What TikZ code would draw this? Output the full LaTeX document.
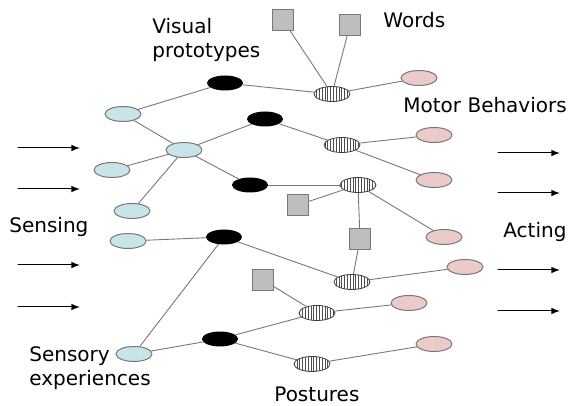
\documentclass[tikz,border=0pt]{standalone}
\usepackage{fontspec}
\setmainfont{DejaVu Sans}
\usetikzlibrary{patterns.meta,shapes.geometric}

\definecolor{sensblue}{RGB}{200,228,232}
\definecolor{motorpink}{RGB}{235,202,202}
\definecolor{wordgray}{RGB}{190,190,190}
\definecolor{edgegray}{RGB}{120,120,120}

\begin{document}
\begin{tikzpicture}[x=0.5pt,y=-0.5pt,line cap=round,line join=round,
    font=\fontsize{10}{12}\selectfont,
    blob/.style={ellipse,minimum width=18pt,minimum height=7.5pt,inner sep=0pt},
    sense/.style={blob,draw=edgegray,line width=0.5pt,fill=sensblue},
    proto/.style={blob,fill=black},
    motor/.style={blob,draw=edgegray,line width=0.5pt,fill=motorpink},
    posture/.style={blob,draw=black!75,line width=0.4pt,
        pattern={Lines[angle=90,distance=1.4pt,line width=0.22pt]},
        pattern color=black!70},
    word/.style={rectangle,draw=edgegray,line width=0.5pt,fill=wordgray,
        minimum size=10.5pt,inner sep=0pt},
    link/.style={draw=edgegray,line width=0.45pt},
    flow/.style={-latex,line width=0.5pt},
    label/.style={inner sep=0pt,align=left}]
        \useasboundingbox (0,0) rectangle (570,406);

        % sensory experiences
        \node[sense] (b1) at (123,114) {};
        \node[sense] (b2) at (184,150) {};
        \node[sense] (b3) at (112,170) {};
        \node[sense] (b4) at (132,211) {};
        \node[sense] (b5) at (128,241) {};
        \node[sense] (b6) at (134,354) {};

        % visual prototypes
        \node[proto] (k1) at (225,83) {};
        \node[proto] (k2) at (265,119) {};
        \node[proto] (k3) at (250,185) {};
        \node[proto] (k4) at (224,237) {};
        \node[proto] (k5) at (220,339) {};

        % postures
        \node[posture] (s1) at (332,94) {};
        \node[posture] (s2) at (342,145) {};
        \node[posture] (s3) at (358,185) {};
        \node[posture] (s4) at (352,282) {};
        \node[posture] (s5) at (317,313) {};
        \node[posture] (s6) at (312,364) {};

        % motor behaviors
        \node[motor] (p1) at (419,78) {};
        \node[motor] (p2) at (434,135) {};
        \node[motor] (p3) at (434,180) {};
        \node[motor] (p4) at (444,237) {};
        \node[motor] (p5) at (465,267) {};
        \node[motor] (p6) at (409,303) {};
        \node[motor] (p7) at (434,344) {};

        % words
        \node[word] (q1) at (283,20) {};
        \node[word] (q2) at (350,25) {};
        \node[word] (q3) at (298,205) {};
        \node[word] (q4) at (360,239) {};
        \node[word] (q5) at (263,280) {};

        \draw[link] (b1) -- (k1);
        \draw[link] (k1) -- (s1);
        \draw[link] (q1) -- (s1);
        \draw[link] (q2) -- (s1);
        \draw[link] (s1) -- (p1);
        \draw[link] (b1) -- (b2);
        \draw[link] (b3) -- (b2);
        \draw[link] (b4) -- (b2);
        \draw[link] (b2) -- (k2);
        \draw[link] (b2) -- (k3);
        \draw[link] (k2) -- (s2);
        \draw[link] (s2) -- (p2);
        \draw[link] (s2) -- (p3);
        \draw[link] (k3) -- (s3);
        \draw[link] (q3) -- (s3);
        \draw[link] (s3) -- (q4);
        \draw[link] (s3) -- (p4);
        \draw[link] (q4) -- (s4);
        \draw[link] (b5) -- (k4);
        \draw[link] (k4) -- (s4);
        \draw[link] (b6) -- (k4);
        \draw[link] (s4) -- (p5);
        \draw[link] (q5) -- (s5);
        \draw[link] (k5) -- (s5);
        \draw[link] (s5) -- (p6);
        \draw[link] (b6) -- (k5);
        \draw[link] (k5) -- (s6);
        \draw[link] (s6) -- (p7);

        % sensing and acting arrows
        \foreach \y [count=\i] in {148,189,265,307} {
            \coordinate (in\i a) at (18,\y);
            \coordinate (in\i b) at (80,\y);
            \draw[flow] (in\i a) -- (in\i b);
        }
        \foreach \y [count=\i] in {153,193,270,311} {
            \coordinate (out\i a) at (498,\y);
            \coordinate (out\i b) at (560,\y);
            \draw[flow] (out\i a) -- (out\i b);
        }

        \node[label,anchor=north west] (lvis) at (152,18) {Visual\\prototypes};
        \node[label,anchor=base west] (lword) at (383,28) {Words};
        \node[label,anchor=base west] (lmot) at (403,113) {Motor Behaviors};
        \node[label,anchor=base west] (lsens) at (9,233) {Sensing};
        \node[label,anchor=base west] (lact) at (503,238) {Acting};
        \node[label,anchor=north west] (lexp) at (29,346) {Sensory\\experiences};
        \node[label,anchor=base west] (lpos) at (274,402) {Postures};
    \end{tikzpicture}
\end{document}
